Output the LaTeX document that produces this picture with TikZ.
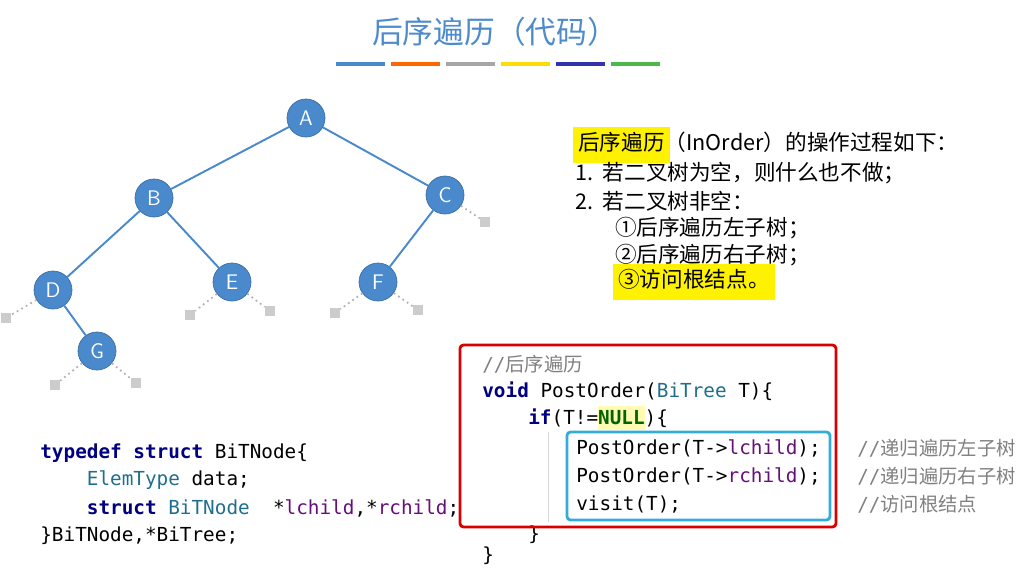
\documentclass[tikz,border=0pt]{standalone}
\usepackage{fontspec}
\setmainfont{Noto Sans CJK SC}
\setmonofont{DejaVu Sans Mono}
\newfontfamily\cjk{Noto Sans CJK SC}
\usetikzlibrary{positioning}
\definecolor{nodeblue}{RGB}{74,137,204}
\definecolor{titleblue}{RGB}{79,139,204}
\definecolor{kw}{RGB}{0,0,128}
\definecolor{ty}{RGB}{32,110,140}
\definecolor{fld}{RGB}{102,14,122}
\definecolor{cmt}{RGB}{128,128,128}
\definecolor{nul}{RGB}{0,100,0}
\definecolor{hl}{RGB}{255,242,0}
\newcommand{\kwd}[1]{\textcolor{kw}{\bfseries #1}}
\newcommand{\tyn}[1]{\textcolor{ty}{#1}}
\newcommand{\fln}[1]{\textcolor{fld}{#1}}
\begin{document}
\begin{tikzpicture}[x=0.02cm,y=-0.02cm,
        tnode/.style = {circle,fill=nodeblue,draw=nodeblue!80!black,
            minimum size=0.76cm,inner sep=0pt,text=white,font=\sffamily\large},
        edge/.style = {draw=nodeblue,line width=1.1pt},
        nullarm/.style = {draw=gray!60,dotted,line width=1pt},
        nullbox/.style = {fill=gray!40,minimum size=0.2cm,inner sep=0pt},
        codeln/.style = {anchor=west,font=\ttfamily\fontsize{11}{13}\selectfont,inner sep=0pt},
        txtln/.style = {anchor=west,font=\cjk\fontsize{12.3}{15}\selectfont,inner sep=1pt},
]
\useasboundingbox (0,0) rectangle (1024,569);
% title
\node[font=\cjk\fontsize{17.5}{21}\selectfont,text=titleblue] (title) at (495,32) {后序遍历（代码）};
\foreach \c [count=\i] in {nodeblue,orange!80!red,gray!70,yellow!80!orange,blue!60!black!80,green!60!black!70}
    \fill[\c] ({336+(\i-1)*55},62) rectangle ++(49,4);
% tree
\node[tnode] (A) at (306,118) {A};
\node[tnode] (B) at (154,198) {B};
\node[tnode] (C) at (445,195) {C};
\node[tnode] (D) at (53,290) {D};
\node[tnode] (E) at (232,282) {E};
\node[tnode] (F) at (378,282) {F};
\node[tnode] (G) at (97,351) {G};
\foreach \p/\q in {A/B,A/C,B/D,B/E,C/F,D/G}
    \draw[edge] (\p) -- (\q);
% empty subtrees
\foreach \n/\x/\y [count=\k] in {D/6/318,E/190/315,E/270/311,F/335/313,F/418/310,C/485/222,G/55/385,G/136/383}{
    \node[nullbox] (nil\k) at (\x,\y) {};
    \draw[nullarm] (\n) -- (nil\k);
}
% description
\node[txtln] (s0) at (571,145) {\colorbox{hl}{\strut 后序遍历}\hspace{-3pt}（InOrder）的操作过程如下：};
\node[txtln] (s1) at (573,173) {1.\ \ 若二叉树为空，则什么也不做；};
\node[txtln] (s2) at (573,201) {2.\ \ 若二叉树非空：};
\node[txtln] (s3) at (613,228) {①后序遍历左子树；};
\node[txtln] (s4) at (613,255) {②后序遍历右子树；};
\node[txtln] (s5) at (611,282) {\colorbox{hl}{\strut ③访问根结点。}};
% struct code
\node[codeln] (t1) at (40,453) {\kwd{typedef struct} BiTNode\{};
\node[codeln] (t2) at (40,480) {\ \ \ \ \tyn{ElemType} data;};
\node[codeln] (t3) at (40,508) {\ \ \ \ \kwd{struct} \tyn{BiTNode}\ \ *\fln{lchild},*\fln{rchild};};
\node[codeln] (t4) at (40,536) {\}BiTNode,*BiTree;};
% traversal code
\node[codeln] (c1) at (482,364) {\textcolor{cmt}{//{\cjk 后序遍历}}};
\node[codeln] (c2) at (482,391) {\kwd{void} PostOrder(\tyn{BiTree} T)\{};
\node[codeln] (c3) at (528,418) {\kwd{if}(T!=\colorbox{yellow!30}{\kern-3pt\textcolor{nul}{\bfseries NULL}\kern-3pt})\{};
\node[codeln] (c4) at (576,448) {PostOrder(T->\fln{lchild});};
\node[codeln] (c5) at (576,476) {PostOrder(T->\fln{rchild});};
\node[codeln] (c6) at (576,504) {visit(T);};
\node[codeln] (c7) at (528,535) {\}};
\node[codeln] (c8) at (482,556) {\}};
\node[codeln,text=cmt] (m4) at (857,448) {//{\cjk 递归遍历左子树}};
\node[codeln,text=cmt] (m5) at (857,476) {//{\cjk 递归遍历右子树}};
\node[codeln,text=cmt] (m6) at (857,504) {//{\cjk 访问根结点}};
\draw[gray!30] (548,432) -- (548,522);
\draw[red!85!black,line width=1.6pt,rounded corners=2pt] (460,345) rectangle (836,527);
\draw[nodeblue!70!cyan,line width=1.6pt,rounded corners=2pt] (567,432) rectangle (830,520);
\end{tikzpicture}
\end{document}
